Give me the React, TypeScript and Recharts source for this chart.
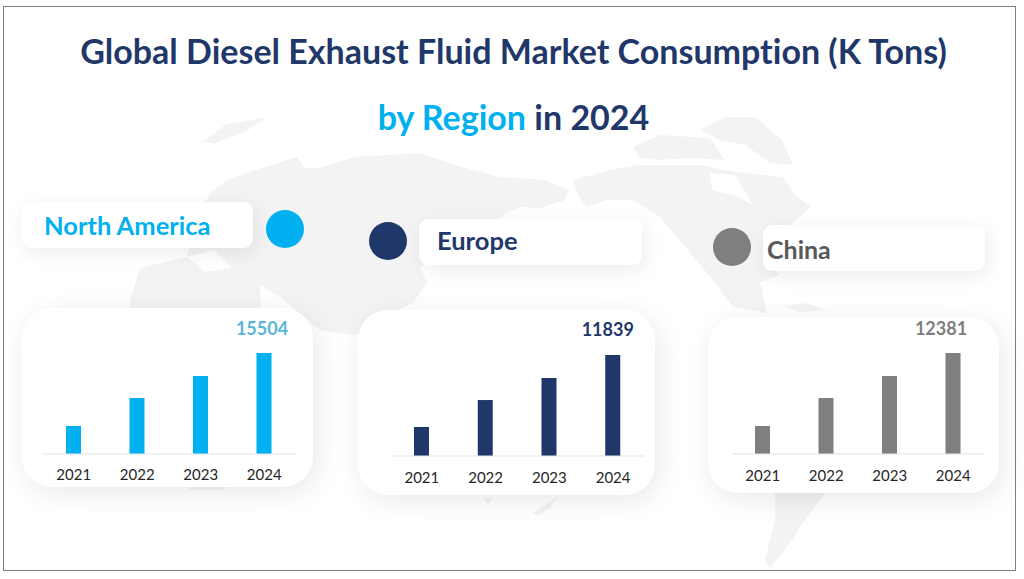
import { BarChart, Bar, XAxis, YAxis, LabelList } from "recharts";

const years = ["2021", "2022", "2023", "2024"];
const northAmerica = [4300, 8600, 11970, 15504];
const europe = [3400, 6560, 9140, 11839];
const china = [3430, 6860, 9560, 12381];

const FONT = "Lato, sans-serif";

const panels = [
  {
    name: "North America",
    values: northAmerica,
    color: "#00b0f0",
    nameColor: "#00b0f0",
    labelColor: "#5bb5d6",
    labelDx: -2,
    labelDy: 18,
    tickMargin: 9,
    card: { left: 22, top: 308, width: 291, height: 179 },
    plot: { left: 42, baseline: 454, width: 254 },
    pill: { left: 22, top: 202, width: 231, height: 46 },
    nameLeft: 44,
    nameTop: 202,
    nameSize: 25.5,
    dot: { x: 285, y: 229 },
  },
  {
    name: "Europe",
    values: europe,
    color: "#1f3869",
    nameColor: "#1f3869",
    labelColor: "#1f3869",
    labelDx: -5,
    labelDy: 19,
    tickMargin: 10,
    card: { left: 358, top: 310, width: 297, height: 185 },
    plot: { left: 390, baseline: 455.5, width: 255 },
    pill: { left: 419, top: 219, width: 223, height: 46 },
    nameLeft: 437,
    nameTop: 217,
    nameSize: 25.5,
    dot: { x: 388, y: 241 },
  },
  {
    name: "China",
    values: china,
    color: "#7f7f7f",
    nameColor: "#595959",
    labelColor: "#7f7f7f",
    labelDx: -12,
    labelDy: 18,
    tickMargin: 10,
    card: { left: 708, top: 317, width: 291, height: 176 },
    plot: { left: 731, baseline: 454, width: 254 },
    pill: { left: 763, top: 225, width: 222, height: 46 },
    nameLeft: 767,
    nameTop: 226,
    nameSize: 25,
    dot: { x: 732, y: 247 },
  },
];

const landShapes = [
  // Eurasia and Africa
  "M130 300 L140 268 L187 257 L196 215 L213 190 L232 178 L262 168 L297 157 L305 168 L320 168 L355 157 L420 153 L455 165 L500 177 L545 180 L568 190 L565 200 L540 208 L520 207 L503 215 L470 240 L420 267 L427 283 L413 303 L393 312 L370 330 L353 335 L320 330 L280 297 L260 285 L262 330 L235 380 L225 490 L190 490 L170 400 L130 340 Z",
  // Greenland wedge north of Europe
  "M203 142 L225 125 L267 117 L245 132 L215 143 Z",
  // North America
  "M573 180 L610 170 L640 165 L700 165 L735 172 L783 177 L795 195 L811 207 L790 225 L775 270 L793 287 L780 275 L760 282 L767 313 L733 307 L707 273 L677 237 L660 217 L633 200 L607 200 L587 207 L578 195 Z",
  // Arctic islands
  "M633 147 L660 135 L710 138 L725 160 L690 158 L660 160 L640 158 Z",
  // Greenland
  "M700 130 L725 117 L755 117 L782 140 L793 165 L770 163 L745 145 L720 140 Z",
  // South America
  "M775 480 L835 480 L805 520 L785 550 L770 568 L765 560 L775 520 Z",
  // Small islands
  "M783 306 L805 303 L827 310 L800 312 Z",
  "M483 497 L493 497 L488 505 Z",
  "M533 513 L545 505 L557 497 L550 508 L538 516 Z",
];

const waterShapes = [
  // Hudson Bay
  "M710 173 L735 175 L753 205 L735 195 L712 190 Z",
  // Mediterranean
  "M187 257 L215 250 L232 268 L205 272 Z",
];

function LastLabel(props: any, dx: number, dy: number, color: string) {
  const { x, y, width, index } = props;
  if (index !== years.length - 1) return null;
  return (
    <text
      x={x + width / 2 + dx}
      y={y - dy}
      textAnchor="middle"
      fontFamily={FONT}
      fontWeight={700}
      fontSize={18}
      fill={color}
    >
      {props.value}
    </text>
  );
}

function Panel({ panel }: { panel: (typeof panels)[number] }) {
  const { card, plot, pill, dot } = panel;
  const data = years.map((year, i) => ({ year, value: panel.values[i] }));
  const top = 36;
  const plotHeight = 101;
  const axisHeight = 36;
  return (
    <>
      <div
        style={{
          position: "absolute",
          ...card,
          background: "#fff",
          borderRadius: 30,
          boxShadow: "4px 6px 28px rgba(0,0,0,0.09)",
        }}
      />
      <div
        style={{
          position: "absolute",
          left: plot.left,
          top: plot.baseline - plotHeight - top,
        }}
      >
        <BarChart
          width={plot.width}
          height={top + plotHeight + axisHeight}
          data={data}
          margin={{ top, right: 0, bottom: 0, left: 0 }}
        >
          <YAxis hide domain={[0, panel.values[panel.values.length - 1]]} />
          <XAxis
            dataKey="year"
            height={axisHeight}
            tickLine={false}
            axisLine={{ stroke: "#e2e3e6", strokeWidth: 1 }}
            tick={{ fontSize: 15, fill: "#262626", fontFamily: FONT }}
            tickMargin={panel.tickMargin}
            interval={0}
          />
          <Bar
            dataKey="value"
            fill={panel.color}
            barSize={15}
            isAnimationActive={false}
          >
            <LabelList
              dataKey="value"
              content={(p: any) =>
                LastLabel(p, panel.labelDx, panel.labelDy, panel.labelColor)
              }
            />
          </Bar>
        </BarChart>
      </div>
      <div
        style={{
          position: "absolute",
          ...pill,
          background: "#fff",
          borderRadius: 9,
          boxShadow: "3px 5px 20px rgba(0,0,0,0.08)",
        }}
      />
      <div
        style={{
          position: "absolute",
          left: panel.nameLeft,
          top: panel.nameTop,
          height: pill.height,
          lineHeight: `${pill.height}px`,
          fontFamily: FONT,
          fontWeight: 700,
          fontSize: panel.nameSize,
          color: panel.nameColor,
          whiteSpace: "nowrap",
        }}
      >
        {panel.name}
      </div>
      <div
        style={{
          position: "absolute",
          left: dot.x - 19,
          top: dot.y - 19,
          width: 38,
          height: 38,
          borderRadius: "50%",
          background: panel.color,
        }}
      />
    </>
  );
}

export default function App() {
  return (
    <div
      style={{
        position: "absolute",
        left: 0,
        top: 0,
        width: 1024,
        height: 579,
        background: "#fff",
        overflow: "hidden",
      }}
    >
      <svg
        width={1024}
        height={579}
        style={{ position: "absolute", left: 0, top: 0, filter: "blur(0.7px)" }}
      >
        {landShapes.map((d, i) => (
          <path key={i} d={d} fill="#f3f3f4" />
        ))}
        {waterShapes.map((d, i) => (
          <path key={i} d={d} fill="#ffffff" />
        ))}
      </svg>
      <div
        style={{
          position: "absolute",
          left: 3,
          top: 6,
          width: 1011,
          height: 563,
          border: "1px solid #808080",
        }}
      />
      <div
        style={{
          position: "absolute",
          left: 0,
          width: 1027,
          top: 29,
          textAlign: "center",
          fontFamily: FONT,
          fontWeight: 700,
          fontSize: 34,
          fontVariantLigatures: "none",
          lineHeight: "44px",
          color: "#1f3869",
          whiteSpace: "nowrap",
        }}
      >
        Global Diesel Exhaust Fluid Market Consumption (K Tons)
      </div>
      <div
        style={{
          position: "absolute",
          left: 0,
          width: 1027,
          top: 95,
          textAlign: "center",
          fontFamily: FONT,
          fontWeight: 700,
          fontSize: 34,
          fontVariantLigatures: "none",
          lineHeight: "44px",
          color: "#1f3869",
          whiteSpace: "nowrap",
        }}
      >
        <span style={{ color: "#00b0f0" }}>by Region</span> in 2024
      </div>
      {panels.map((panel) => (
        <Panel key={panel.name} panel={panel} />
      ))}
    </div>
  );
}
